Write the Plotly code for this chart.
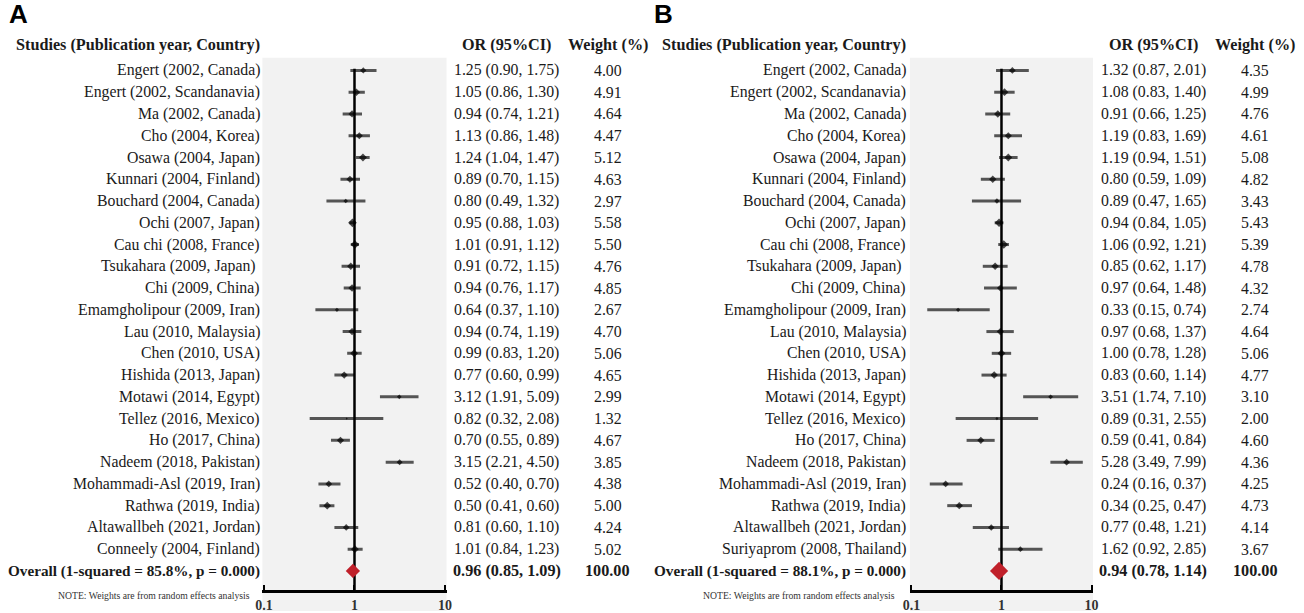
import plotly.graph_objects as go

# ---------------- data ----------------
studies_a = [
    "Engert (2002, Canada)", "Engert (2002, Scandanavia)", "Ma (2002, Canada)",
    "Cho (2004, Korea)", "Osawa (2004, Japan)", "Kunnari (2004, Finland)",
    "Bouchard (2004, Canada)", "Ochi (2007, Japan)", "Cau chi (2008, France)",
    "Tsukahara (2009, Japan) ", "Chi (2009, China)", "Emamgholipour (2009, Iran)",
    "Lau (2010, Malaysia)", "Chen (2010, USA)", "Hishida (2013, Japan)",
    "Motawi (2014, Egypt)", "Tellez (2016, Mexico)", "Ho (2017, China)",
    "Nadeem (2018, Pakistan)", "Mohammadi-Asl (2019, Iran)", "Rathwa (2019, India)",
    "Altawallbeh (2021, Jordan)", "Conneely (2004, Finland)",
]
or_a = [1.25, 1.05, 0.94, 1.13, 1.24, 0.89, 0.80, 0.95, 1.01, 0.91, 0.94, 0.64,
        0.94, 0.99, 0.77, 3.12, 0.82, 0.70, 3.15, 0.52, 0.50, 0.81, 1.01]
lo_a = [0.90, 0.86, 0.74, 0.86, 1.04, 0.70, 0.49, 0.88, 0.91, 0.72, 0.76, 0.37,
        0.74, 0.83, 0.60, 1.91, 0.32, 0.55, 2.21, 0.40, 0.41, 0.60, 0.84]
hi_a = [1.75, 1.30, 1.21, 1.48, 1.47, 1.15, 1.32, 1.03, 1.12, 1.15, 1.17, 1.10,
        1.19, 1.20, 0.99, 5.09, 2.08, 0.89, 4.50, 0.70, 0.60, 1.10, 1.23]
w_a = [4.00, 4.91, 4.64, 4.47, 5.12, 4.63, 2.97, 5.58, 5.50, 4.76, 4.85, 2.67,
       4.70, 5.06, 4.65, 2.99, 1.32, 4.67, 3.85, 4.38, 5.00, 4.24, 5.02]
overall_a_label = "Overall (1-squared = 85.8%, p = 0.000)"
overall_a = (0.96, 0.85, 1.09, 100.00)

studies_b = [
    "Engert (2002, Canada)", "Engert (2002, Scandanavia)", "Ma (2002, Canada)",
    "Cho (2004, Korea)", "Osawa (2004, Japan)", "Kunnari (2004, Finland)",
    "Bouchard (2004, Canada)", "Ochi (2007, Japan)", "Cau chi (2008, France)",
    "Tsukahara (2009, Japan) ", "Chi (2009, China)", "Emamgholipour (2009, Iran)",
    "Lau (2010, Malaysia)", "Chen (2010, USA)", "Hishida (2013, Japan)",
    "Motawi (2014, Egypt)", "Tellez (2016, Mexico)", "Ho (2017, China)",
    "Nadeem (2018, Pakistan)", "Mohammadi-Asl (2019, Iran)", "Rathwa (2019, India)",
    "Altawallbeh (2021, Jordan)", "Suriyaprom (2008, Thailand)",
]
or_b = [1.32, 1.08, 0.91, 1.19, 1.19, 0.80, 0.89, 0.94, 1.06, 0.85, 0.97, 0.33,
        0.97, 1.00, 0.83, 3.51, 0.89, 0.59, 5.28, 0.24, 0.34, 0.77, 1.62]
lo_b = [0.87, 0.83, 0.66, 0.83, 0.94, 0.59, 0.47, 0.84, 0.92, 0.62, 0.64, 0.15,
        0.68, 0.78, 0.60, 1.74, 0.31, 0.41, 3.49, 0.16, 0.25, 0.48, 0.92]
hi_b = [2.01, 1.40, 1.25, 1.69, 1.51, 1.09, 1.65, 1.05, 1.21, 1.17, 1.48, 0.74,
        1.37, 1.28, 1.14, 7.10, 2.55, 0.84, 7.99, 0.37, 0.47, 1.21, 2.85]
w_b = [4.35, 4.99, 4.76, 4.61, 5.08, 4.82, 3.43, 5.43, 5.39, 4.78, 4.32, 2.74,
       4.64, 5.06, 4.77, 3.10, 2.00, 4.60, 4.36, 4.25, 4.73, 4.14, 3.67]
overall_b_label = "Overall (1-squared = 88.1%, p = 0.000)"
overall_b = (0.94, 0.78, 1.14, 100.00)

tick_vals = [0.1, 1, 10]
tick_text = ["0.1", "1", "10"]

# ---------------- layout geometry ----------------
W, H = 1304, 613
ROW0_PX, ROW_STEP = 70.7, 21.83
AXIS_PX = 592
Y_BOTTOM = (AXIS_PX - ROW0_PX) / ROW_STEP
Y_TOP = (0 - ROW0_PX) / ROW_STEP
HEADER_Y = (45 - ROW0_PX) / ROW_STEP

SERIF = "Liberation Serif, Times New Roman, serif"
TXT = "#1a1a1a"
FS = 15.8      # body text size
FSB = 16.2     # bold header size
FSO = 15.2     # bold overall label size

panels = [
    dict(xa="x", name="A", studies=studies_a, orr=or_a, lo=lo_a, hi=hi_a, w=w_a,
         ov_label=overall_a_label, ov=overall_a, label_r=258,
         or_c=505, w_c=607, note_c=148, letter_x=0, diamond=11),
    dict(xa="x2", name="B", studies=studies_b, orr=or_b, lo=lo_b, hi=hi_b, w=w_b,
         ov_label=overall_b_label, ov=overall_b, label_r=910,
         or_c=1158, w_c=1261, note_c=800, letter_x=651, diamond=14),
]

fig = go.Figure()
annotations = []
shapes = []


def txt(x_px, y, text, anchor, size=FS, yref="y", color=TXT, family=SERIF):
    return dict(xref="paper", yref=yref, x=x_px / W, y=y, text=text,
                xanchor=anchor, yanchor="middle", showarrow=False,
                font=dict(family=family, size=size, color=color))


for p in panels:
    n = len(p["studies"])
    rows = list(range(n))
    ov_row = n
    # gray background
    shapes.append(dict(type="rect", xref=p["xa"] + " domain", yref="paper",
                       x0=0, x1=1, y0=0, y1=(H - 58) / H,
                       fillcolor="#f2f2f2", line=dict(width=0), layer="below"))
    # CI lines
    cx, cy = [], []
    for r, l, h in zip(rows, p["lo"], p["hi"]):
        cx += [l, h, None]
        cy += [r, r, None]
    fig.add_trace(go.Scatter(x=cx, y=cy, mode="lines", xaxis=p["xa"], yaxis="y",
                             line=dict(color="#555555", width=3),
                             hoverinfo="skip", showlegend=False))
    # reference line at 1
    fig.add_trace(go.Scatter(x=[1, 1], y=[-0.08, Y_BOTTOM], mode="lines",
                             xaxis=p["xa"], yaxis="y",
                             line=dict(color="black", width=2.5),
                             hoverinfo="skip", showlegend=False))
    # point estimates
    fig.add_trace(go.Scatter(x=p["orr"], y=rows, mode="markers", xaxis=p["xa"], yaxis="y",
                             marker=dict(symbol="diamond", color="black",
                                         size=[1.2 * v for v in p["w"]], line=dict(width=0)),
                             showlegend=False))
    # overall diamond
    fig.add_trace(go.Scatter(x=[p["ov"][0]], y=[ov_row], mode="markers",
                             xaxis=p["xa"], yaxis="y",
                             marker=dict(symbol="diamond", color="#c0202a",
                                         size=p["diamond"], line=dict(width=0)),
                             showlegend=False))

    # headers
    annotations.append(txt(p["label_r"], HEADER_Y,
                           "<b>Studies (Publication year, Country)</b>", "right", FSB))
    annotations.append(txt(p["or_c"], HEADER_Y, "<b>OR (95%CI)</b>", "center", FSB))
    annotations.append(txt(p["w_c"], HEADER_Y, "<b>Weight (%)</b>", "center", FSB))
    # panel letter
    annotations.append(txt(p["letter_x"], 1 - 14 / H, "<b>" + p["name"] + "</b>", "left",
                           26, yref="paper", color="black",
                           family="Liberation Sans, Arial, sans-serif"))
    # rows
    for r, s, o, l, h, w in zip(rows, p["studies"], p["orr"], p["lo"], p["hi"], p["w"]):
        annotations.append(txt(p["label_r"], r, s, "right"))
        annotations.append(txt(p["or_c"], r, f"{o:.2f} ({l:.2f}, {h:.2f})", "center"))
        annotations.append(txt(p["w_c"], r, f"{w:.2f}", "center"))
    # overall row
    o, l, h, w = p["ov"]
    annotations.append(txt(p["label_r"], ov_row, "<b>" + p["ov_label"] + "</b>", "right", FSO))
    annotations.append(txt(p["or_c"], ov_row, f"<b>{o:.2f} ({l:.2f}, {h:.2f})</b>", "center", FSB))
    annotations.append(txt(p["w_c"], ov_row, f"<b>{w:.2f}</b>", "center", FSB))
    # note
    annotations.append(txt(p["note_c"], (H - 597) / H,
                           "NOTE: Weights are from random effects analysis", "center",
                           9.7, yref="paper", color="#333333"))

xr = [-1 - 1.5 / 91.5, 1 + 1.5 / 91.5]
axis_common = dict(type="log", range=xr, showgrid=False, zeroline=False,
                   showline=True, linecolor="black", linewidth=2.5,
                   tickmode="array", tickvals=tick_vals, ticktext=tick_text,
                   ticks="inside", ticklen=5, tickwidth=2, tickcolor="black",
                   tickfont=dict(family=SERIF, size=14, color="#333333", weight="bold"),
                   anchor="y", fixedrange=True)

fig.update_layout(
    width=W, height=H,
    margin=dict(l=0, r=0, t=0, b=0),
    paper_bgcolor="white", plot_bgcolor="rgba(0,0,0,0)",
    xaxis=dict(domain=[258 / W, 444 / W], **axis_common),
    xaxis2=dict(domain=[912 / W, 1097 / W], **axis_common),
    yaxis=dict(domain=[(H - AXIS_PX) / H, 1], range=[Y_BOTTOM, Y_TOP],
               visible=False, fixedrange=True),
    shapes=shapes,
    annotations=annotations,
    showlegend=False,
)

fig.write_html("out.html",
               config={"displayModeBar": False},
               post_script="document.body.style.margin='0';"
                           "document.body.style.padding='0';"
                           "document.body.style.overflow='hidden';")
